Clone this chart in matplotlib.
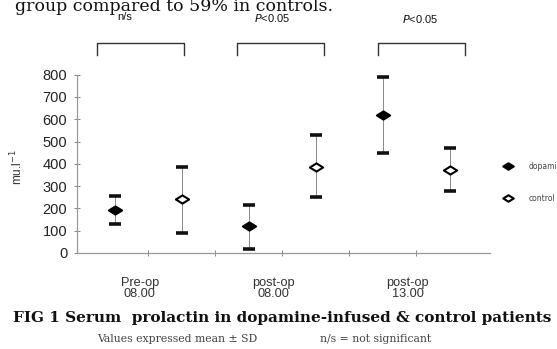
import matplotlib
matplotlib.use("Agg")
import matplotlib.pyplot as plt
from matplotlib.path import Path
from matplotlib.lines import Line2D
import numpy as np

# ---- data ----
groups = ["Pre-op\n08.00", "post-op\n08.00", "post-op\n13.00"]
series_names = ["dopamine", "control"]
dop_mean = [193, 123, 617]
dop_upper = [257, 214, 788]
dop_lower = [130, 19, 448]
ctl_mean = [241, 388, 373]
ctl_upper = [388, 529, 472]
ctl_lower = [88, 250, 276]
sig_labels = ["n/s", "$P$<0.05", "$P$<0.05"]
yticks = [0, 100, 200, 300, 400, 500, 600, 700, 800]

# ---- layout (annotation placement) ----
sig_dx = [-0.35, -0.16, 0.05]
sig_y = [1060, 1056, 1048]
bracket_dx = [-0.12, -0.03, 0.07]

fig = plt.figure(figsize=(5.57, 3.49), dpi=100)
fig.patch.set_facecolor("white")
ax = fig.add_axes([77/557, 1-253/349, (490-77)/557, (253-74.7)/349])

diamond = Path([(-1, 0), (0, 0.62), (1, 0), (0, -0.62), (-1, 0)],
               [Path.MOVETO, Path.LINETO, Path.LINETO, Path.LINETO, Path.CLOSEPOLY])

n = len(groups)
x_dop = np.arange(n) * 2 + 1
x_ctl = x_dop + 1

def draw(xs, mean, lo, hi, face):
    mean = np.array(mean); lo = np.array(lo); hi = np.array(hi)
    eb = ax.errorbar(xs, mean, yerr=[mean - lo, hi - mean], fmt="none",
                     ecolor="#888888", elinewidth=0.7, capsize=4.2, capthick=2.6,
                     zorder=2)
    for cap in eb[1]:
        cap.set_color("#111111")
        cap.set_markeredgecolor("#111111")
    ax.plot(xs, mean, linestyle="none", marker=diamond, markersize=9.5,
            markerfacecolor=face, markeredgecolor="black", markeredgewidth=1.5,
            zorder=3)

draw(x_dop, dop_mean, dop_lower, dop_upper, "black")
draw(x_ctl, ctl_mean, ctl_lower, ctl_upper, "white")

ax.set_xlim(0.433, 6.597)
ax.set_ylim(0, 800)
ax.set_yticks(yticks)
ax.set_yticklabels([str(t) for t in yticks], fontsize=10.5, color="#222222",
                   family="Liberation Sans")
ax.tick_params(axis="y", direction="inout", length=4, width=0.7, color="#888888", pad=5)

centers = (x_dop + x_ctl) / 2
ax.set_xticks(centers - 0.13)
ax.set_xticklabels(groups, fontsize=9.2, color="#333333", family="Liberation Sans",
                   linespacing=0.95)
ax.tick_params(axis="x", which="major", length=0, pad=17)
ax.set_xticks(np.arange(1.5, 2 * n, 1), minor=True)
ax.tick_params(axis="x", which="minor", direction="inout", length=4, width=0.7,
               color="#888888")

for s in ["top", "right"]:
    ax.spines[s].set_visible(False)
for s in ["left", "bottom"]:
    ax.spines[s].set_color("#999999")
    ax.spines[s].set_linewidth(0.9)

ax.set_ylabel("mu.l$^{-1}$", fontsize=8.5, color="#333333", family="Liberation Sans")
ax.yaxis.set_label_coords(-0.125, 0.48)

# significance brackets
for c, dx, lab, dxs, ys in zip(centers, bracket_dx, sig_labels, sig_dx, sig_y):
    xl, xr = c + dx - 0.65, c + dx + 0.65
    ax.plot([xl, xl, xr, xr], [890, 944, 944, 890], color="#333333", lw=1.0,
            clip_on=False)
    ax.text(c + dxs, ys, lab, fontsize=8, ha="center", va="center",
            color="#111111", family="Liberation Sans", clip_on=False)

# legend
handles = [Line2D([], [], linestyle="none", marker=diamond, markersize=7.5,
                  markerfacecolor="black", markeredgecolor="black", markeredgewidth=1.5),
           Line2D([], [], linestyle="none", marker=diamond, markersize=7.5,
                  markerfacecolor="white", markeredgecolor="black", markeredgewidth=1.5)]
fig.legend(handles, series_names, loc="upper left",
           bbox_to_anchor=(496/557, 1 - 155/349), frameon=False,
           fontsize=5.5, labelspacing=3.0, handletextpad=2.0, handlelength=1.4,
           labelcolor="#444444")

# surrounding text
fig.text(15/557, 1 - 11/349, "group compared to 59% in controls.", fontsize=12.5,
         family="DejaVu Serif", va="baseline", ha="left", color="#111111")
fig.text(13/557, 1 - 322/349,
         "FIG 1 Serum  prolactin in dopamine-infused & control patients",
         fontsize=11, family="DejaVu Serif", weight="bold", va="baseline",
         ha="left", color="#111111")
fig.text(97/557, 1 - 342/349, "Values expressed mean \u00b1 SD", fontsize=7.8,
         family="DejaVu Serif", va="baseline", ha="left", color="#444444")
fig.text(320/557, 1 - 342/349, "n/s = not significant", fontsize=7.8,
         family="DejaVu Serif", va="baseline", ha="left", color="#444444")

fig.savefig("out.png", dpi=100, facecolor="white")
